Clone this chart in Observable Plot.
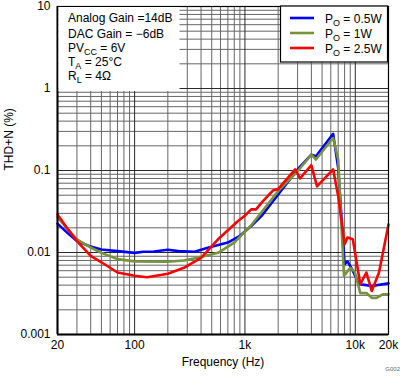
<!DOCTYPE html>
<html><head><meta charset="utf-8">
<script src="https://cdn.jsdelivr.net/npm/d3@7"></script>
<script src="https://cdn.jsdelivr.net/npm/@observablehq/plot@0.6"></script>
<style>body{margin:0;background:white;}</style>
</head><body><div id="chart"></div>
<script>
const blueFreq = [20,25,30,40,50,70,100,120,150,200,250,350,460,700,900,1140,1450,2000,3000,4000,4400,6300,7000,8000,8500,9500,10800,12600,14000,20000];
const blueThd  = [0.0225,0.017,0.0138,0.0118,0.0109,0.0104,0.0099,0.0102,0.0103,0.0108,0.0104,0.0102,0.0114,0.0132,0.016,0.021,0.029,0.051,0.103,0.156,0.149,0.28,0.107,0.0072,0.0078,0.006,0.0041,0.004,0.0039,0.0042];
const greenFreq = [20,25,30,40,50,70,100,200,280,400,570,800,1140,2000,3000,4000,4400,6300,7000,7900,9000,9900,11100,12600,14100,15600,17900,20000];
const greenThd  = [0.027,0.019,0.0145,0.0115,0.0099,0.0083,0.0078,0.0077,0.008,0.0088,0.0099,0.0132,0.0215,0.056,0.098,0.156,0.136,0.249,0.136,0.0052,0.0065,0.0058,0.0032,0.0032,0.0028,0.0028,0.0031,0.0031];
const redFreq = [20,25,30,40,50,70,100,130,200,280,400,570,800,860,990,1140,1260,1450,1790,1990,2850,3160,3990,4500,6300,7000,8000,8500,9500,11100,12600,14100,16400,20000];
const redThd  = [0.029,0.019,0.0138,0.0091,0.0076,0.0057,0.0052,0.005,0.0055,0.0065,0.0086,0.0145,0.022,0.024,0.0278,0.0336,0.0336,0.042,0.057,0.059,0.103,0.08,0.116,0.064,0.103,0.049,0.0126,0.0152,0.0145,0.0041,0.0057,0.0034,0.0057,0.022];

const xTicks = [20,100,1000,10000,20000];
const xTickLabels = ["20","100","1k","10k","20k"];
const yTicks = [0.001,0.01,0.1,1,10];
const yTickLabels = ["0.001","0.01","0.1","1","10"];
const xGridMajor = [100,1000,10000];
const xGridMinor = [30,40,50,60,70,80,90,200,300,400,500,600,700,800,900,2000,3000,4000,5000,6000,7000,8000,9000];
const yGridMajor = [0.01,0.1,1];
const yGridMinor = [0.002,0.003,0.004,0.005,0.006,0.007,0.008,0.009,0.02,0.03,0.04,0.05,0.06,0.07,0.08,0.09,0.2,0.3,0.4,0.5,0.6,0.7,0.8,0.9,2,3,4,5,6,7,8,9];

const seriesNames = ["0.5W","1W","2.5W"];
const seriesColors = ["#0000ff","#77933c","#ff0000"];

const toRows = (f, v) => f.map((d, i) => ({f: d, v: v[i]}));

const font = "'Liberation Sans', Arial, sans-serif";

const chart = Plot.plot({
  width: 402, height: 377,
  marginLeft: 57, marginRight: 14, marginTop: 6, marginBottom: 43,
  style: {fontFamily: font, fontSize: "12px", background: "white", color: "black"},
  x: {type: "log", domain: [20, 20000]},
  y: {type: "log", domain: [0.001, 10]},
  marks: [
    Plot.ruleX(xGridMinor, {stroke: "#666", strokeWidth: 1}),
    Plot.ruleY(yGridMinor, {stroke: "#666", strokeWidth: 1}),
    Plot.ruleX(xGridMajor, {stroke: "#2a2a2a", strokeWidth: 1}),
    Plot.ruleY(yGridMajor, {stroke: "#2a2a2a", strokeWidth: 1}),
    Plot.line(toRows(blueFreq, blueThd), {x: "f", y: "v", stroke: seriesColors[0], strokeWidth: 2.6}),
    Plot.line(toRows(greenFreq, greenThd), {x: "f", y: "v", stroke: seriesColors[1], strokeWidth: 2.6}),
    Plot.line(toRows(redFreq, redThd), {x: "f", y: "v", stroke: seriesColors[2], strokeWidth: 2.6}),
    Plot.frame({stroke: "black", strokeWidth: 1.2}),
    Plot.ruleX([20], {stroke: "black", strokeWidth: 2}),
    Plot.ruleY([0.001], {stroke: "black", strokeWidth: 2}),
    Plot.axisX({ticks: xTicks, tickFormat: (d) => xTickLabels[xTicks.indexOf(d)], tickSize: 0, tickPadding: 6, label: null, fontSize: 12}),
    Plot.axisY({ticks: yTicks, tickFormat: (d) => yTickLabels[yTicks.indexOf(d)], tickSize: 0, tickPadding: 7, label: null, fontSize: 12}),
    Plot.text(["Frequency (Hz)"], {frameAnchor: "bottom", dy: 28, lineAnchor: "middle", fontSize: 12}),
    Plot.text(["THD+N (%)"], {frameAnchor: "left", dx: -48, rotate: -90, fontSize: 12})
  ]
});

const svg = d3.select(chart);
// annotation block
const ann = svg.append("g").attr("font-family", font).attr("font-size", 12).attr("fill", "black").attr("text-anchor", "start");
ann.append("rect").attr("x", 58.5).attr("y", 7).attr("width", 121).attr("height", 84).attr("fill", "white");
const annLines = [
  [["Analog Gain =14dB", false]],
  [["DAC Gain = \u22126dB", false]],
  [["PV", false], ["CC", true], [" = 6V", false]],
  [["T", false], ["A", true], [" = 25\u00B0C", false]],
  [["R", false], ["L", true], [" = 4\u03A9", false]]
];
const annBase = [22, 38, 52, 66, 80];
annLines.forEach((parts, i) => {
  const t = ann.append("text").attr("x", 68).attr("y", annBase[i]);
  let shifted = false;
  parts.forEach(([s, sub]) => {
    const ts = t.append("tspan").text(s);
    if (sub) { ts.attr("font-size", 9).attr("dy", 2.5); shifted = true; }
    else if (shifted) { ts.attr("dy", -2.5); shifted = false; }
  });
});
// legend
const leg = svg.append("g").attr("font-family", font).attr("font-size", 12).attr("text-anchor", "start").attr("fill", "black");
leg.append("rect").attr("x", 280.5).attr("y", 6).attr("width", 107).attr("height", 56).attr("fill", "white").attr("stroke", "black").attr("stroke-width", 1.2);
seriesNames.forEach((n, i) => {
  const y = 18 + i * 15;
  leg.append("line").attr("x1", 290).attr("x2", 314).attr("y1", y).attr("y2", y).attr("stroke", seriesColors[i]).attr("stroke-width", 2.6);
  const t = leg.append("text").attr("x", 325).attr("y", y + 4.5);
  t.append("tspan").text("P");
  t.append("tspan").attr("font-size", 9).attr("dy", 3).text("O");
  t.append("tspan").attr("dy", -3).text(" = " + n);
});
svg.append("text").attr("x", 400).attr("y", 371).attr("text-anchor", "end").attr("font-family", font).attr("font-size", 6).attr("fill", "#666").text("G002");

document.getElementById("chart").appendChild(chart);
</script>
</body></html>
